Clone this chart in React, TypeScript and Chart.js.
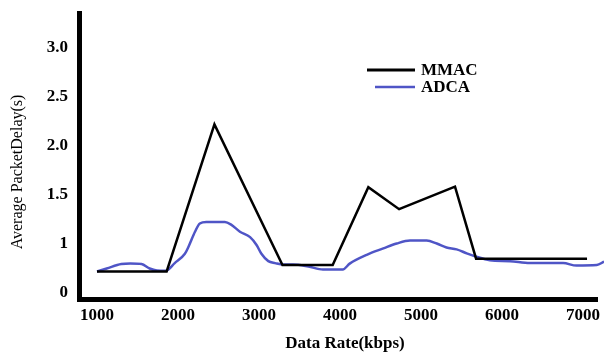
import React, { useEffect, useRef } from "react";
import { Chart, registerables } from "chart.js";

Chart.register(...registerables);

// ---- data ----
const X_TICKS = [1000, 2000, 3000, 4000, 5000, 6000, 7000];
const Y_TICK_LABELS = ["0", "1", "1.5", "2.0", "2.5", "3.0"];
const Y_TICK_VALUES = [0, 1, 1.5, 2, 2.5, 3];

const SERIES_LABELS = ["MMAC", "ADCA"];
const X_TITLE = "Data Rate(kbps)";
const Y_TITLE = "Average PacketDelay(s)";

const MMAC_X = [1000, 1860, 2450, 3290, 3910, 4350, 4730, 5420, 5680, 7050];
const MMAC_Y = [0.44, 0.44, 2.22, 0.57, 0.57, 1.58, 1.355, 1.585, 0.7, 0.7];

const ADCA_X = [
  1000, 1120, 1300, 1410, 1550, 1650, 1740, 1850, 1960, 2085, 2130, 2210, 2270,
  2350, 2580, 2660, 2765, 2890, 2970, 3030, 3115, 3200, 3300, 3420, 3610, 3790,
  4035, 4120, 4330, 4535, 4700, 4865, 5070, 5195, 5315, 5440, 5565, 5685, 5850,
  6100, 6345, 6755, 6920, 7170, 7260,
];
const ADCA_Y = [
  0.44, 0.5, 0.59, 0.6, 0.59, 0.5, 0.46, 0.455, 0.61, 0.8, 0.945, 1.125, 1.21,
  1.225, 1.225, 1.195, 1.125, 1.07, 0.98, 0.8, 0.65, 0.61, 0.58, 0.58, 0.54,
  0.48, 0.48, 0.6, 0.78, 0.91, 1.005, 1.035, 1.035, 1.005, 0.93, 0.89, 0.81,
  0.74, 0.67, 0.65, 0.61, 0.61, 0.56, 0.57, 0.64,
];

const MMAC_COLOR = "#000000";
const ADCA_COLOR = "#4f55c6";

// The printed y axis spaces its labels evenly although the steps differ;
// map a delay in seconds onto that evenly spaced label axis.
function toAxis(s: number): number {
  for (let i = 1; i < Y_TICK_VALUES.length; i++) {
    const a = Y_TICK_VALUES[i - 1];
    const b = Y_TICK_VALUES[i];
    if (s <= b || i === Y_TICK_VALUES.length - 1) {
      return i - 1 + (s - a) / (b - a);
    }
  }
  return 0;
}

const SERIF = "'Liberation Serif', 'Times New Roman', serif";

const overlayPlugin = {
  id: "overlay",
  afterDraw(chart: any) {
    const ctx = chart.ctx as CanvasRenderingContext2D;
    ctx.save();
    // legend
    const items = [
      { y: 70, x0: 367, w: 3 },
      { y: 87, x0: 375, w: 2.5 },
    ];
    chart.data.datasets.forEach((ds: any, i: number) => {
      const it = items[i];
      ctx.strokeStyle = ds.borderColor;
      ctx.lineWidth = it.w;
      ctx.beginPath();
      ctx.moveTo(it.x0, it.y);
      ctx.lineTo(415, it.y);
      ctx.stroke();
      ctx.fillStyle = "#000";
      ctx.font = `bold 17px ${SERIF}`;
      ctx.textAlign = "left";
      ctx.textBaseline = "middle";
      ctx.fillText(ds.label, 421, it.y + 1);
    });
    // x title
    ctx.font = `bold 17px ${SERIF}`;
    ctx.textAlign = "center";
    ctx.textBaseline = "middle";
    ctx.fillText(X_TITLE, 345, 344);
    // y title
    ctx.translate(18, 172);
    ctx.rotate(-Math.PI / 2);
    ctx.font = `16px ${SERIF}`;
    ctx.fillText(Y_TITLE, 0, 0);
    ctx.restore();
  },
};

export default function App() {
  const ref = useRef<HTMLCanvasElement | null>(null);

  useEffect(() => {
    if (!ref.current) return;
    const chart = new Chart(ref.current, {
      type: "line",
      data: {
        datasets: [
          {
            label: SERIES_LABELS[0],
            data: MMAC_X.map((x, i) => ({ x, y: toAxis(MMAC_Y[i]) })),
            borderColor: MMAC_COLOR,
            backgroundColor: MMAC_COLOR,
            borderWidth: 2.5,
            pointRadius: 0,
            tension: 0,
          },
          {
            label: SERIES_LABELS[1],
            data: ADCA_X.map((x, i) => ({ x, y: toAxis(ADCA_Y[i]) })),
            borderColor: ADCA_COLOR,
            backgroundColor: ADCA_COLOR,
            borderWidth: 2.5,
            pointRadius: 0,
            cubicInterpolationMode: "monotone",
            clip: false as any,
          },
        ],
      },
      options: {
        animation: false,
        responsive: false,
        devicePixelRatio: 1,
        layout: { padding: { top: 13, right: 7, left: 0, bottom: 0 } },
        plugins: {
          legend: { display: false },
          tooltip: { enabled: false },
        },
        scales: {
          x: {
            type: "linear",
            min: 778,
            max: 7173,
            afterBuildTicks: (s: any) => {
              s.ticks = X_TICKS.map((v) => ({ value: v }));
            },
            afterFit: (s: any) => {
              s.height = 53;
              s.paddingLeft = 0;
              s.paddingRight = 0;
            },
            ticks: {
              autoSkip: false,
              maxRotation: 0,
              padding: 6,
              color: "#000",
              font: { family: SERIF, size: 17, weight: "bold" },
              callback: (v: any) => String(v),
            },
            grid: { display: false, drawTicks: false },
            border: { display: true, color: "#000", width: 5 },
          },
          y: {
            type: "linear",
            min: -0.1224,
            max: 5.714,
            afterBuildTicks: (s: any) => {
              s.ticks = Y_TICK_LABELS.map((_, i) => ({ value: i }));
            },
            afterFit: (s: any) => {
              s.width = 79;
              s.paddingTop = 0;
              s.paddingBottom = 0;
            },
            ticks: {
              autoSkip: false,
              padding: 11,
              color: "#000",
              font: { family: SERIF, size: 17, weight: "bold" },
              callback: (v: any) => Y_TICK_LABELS[Math.round(Number(v))],
            },
            grid: { display: false, drawTicks: false },
            border: { display: true, color: "#000", width: 5 },
          },
        },
      },
      plugins: [overlayPlugin],
    });
    return () => chart.destroy();
  }, []);

  return (
    <div
      style={{
        position: "fixed",
        left: 0,
        top: 0,
        width: 604,
        height: 352,
        background: "#fff",
      }}
    >
      <canvas ref={ref} width={604} height={352} style={{ display: "block" }} />
    </div>
  );
}
